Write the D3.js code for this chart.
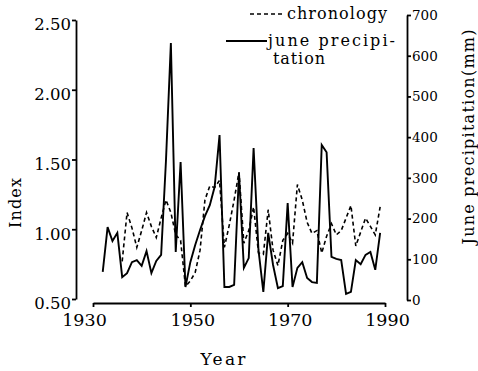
<!DOCTYPE html>
<html>
<head>
<meta charset="utf-8">
<script src="https://cdn.jsdelivr.net/npm/d3@7"></script>
<style>
  html, body { margin: 0; padding: 0; background: #fff; }
  svg { display: block; }
  text { font-family: "DejaVu Serif", "Liberation Serif", serif; fill: #000; }
</style>
</head>
<body>
<svg id="chart" width="478" height="371"></svg>
<script>
// Years of record
const years = [1932, 1933, 1934, 1935, 1936, 1937, 1938, 1939, 1940, 1941,
               1942, 1943, 1944, 1945, 1946, 1947, 1948, 1949, 1950, 1951,
               1952, 1953, 1954, 1955, 1956, 1957, 1958, 1959, 1960, 1961,
               1962, 1963, 1964, 1965, 1966, 1967, 1968, 1969, 1970, 1971,
               1972, 1973, 1974, 1975, 1976, 1977, 1978, 1979, 1980, 1981,
               1982, 1983, 1984, 1985, 1986, 1987, 1988, 1989];

// June precipitation (mm)
const junePrecip = [69, 179, 145, 165, 56, 66, 93, 98, 84, 120,
                    66, 96, 111, 344, 631, 118, 339, 32, 93, 135,
                    172, 206, 233, 278, 405, 32, 32, 37, 312, 79,
                    103, 373, 123, 20, 165, 86, 29, 34, 238, 32,
                    79, 93, 54, 44, 42, 381, 363, 106, 101, 98,
                    15, 20, 98, 88, 111, 118, 74, 165];

// Ring-width chronology index (series begins in 1936)
const chronology = [null, null, null, null, 0.77, 1.12, 1.01, 0.87, 0.99, 1.12,
                    1.02, 0.94, 1.08, 1.21, 1.12, 0.96, 0.92, 0.59, 0.63, 0.69,
                    0.85, 1.21, 1.31, 1.30, 1.35, 0.87, 1.03, 1.21, 1.41, 0.90,
                    0.99, 1.16, 0.83, 0.82, 1.14, 0.85, 0.74, 0.92, 0.97, 0.90,
                    1.32, 1.21, 1.05, 0.97, 0.99, 0.83, 0.95, 1.04, 0.96, 0.99,
                    1.08, 1.17, 0.88, 0.98, 1.08, 1.02, 0.96, 1.16];

// Axis ticks
const yearTicks = [1930, 1950, 1970, 1990];
const indexTicks = [0.50, 1.00, 1.50, 2.00, 2.50];
const precipTicks = [0, 100, 200, 300, 400, 500, 600, 700];

const svg = d3.select("#chart");

const x = d3.scaleLinear().domain([1930, 1990]).range([93, 385]);
const yIndex = d3.scaleLinear().domain([0.5, 2.5]).range([299, 20]);
const yPrecip = d3.scaleLinear().domain([0, 700]).range([300, 15]);

// Left axis: chronology index
const gL = svg.append("g")
  .attr("transform", "translate(76,0)")
  .call(d3.axisLeft(yIndex).tickValues(indexTicks)
    .tickFormat(d3.format(".2f")).tickSize(4).tickSizeOuter(0).tickPadding(1));
gL.selectAll("text").attr("font-size", 16.5).attr("dy", "0.6em");

// Bottom axis: year (first label sits left of the axis start)
const gB = svg.append("g")
  .attr("transform", "translate(0,303)")
  .call(d3.axisBottom(x).tickValues(yearTicks)
    .tickFormat(d3.format("d")).tickSize(4).tickSizeOuter(0).tickPadding(7));
gB.selectAll("text").attr("font-size", 17.5)
  .attr("dx", (d, i) => i === 0 ? -9 : 2);

// Right axis: precipitation
const gR = svg.append("g")
  .attr("transform", "translate(407,0)")
  .call(d3.axisRight(yPrecip).tickValues(precipTicks)
    .tickSize(4).tickSizeOuter(0).tickPadding(1));
gR.selectAll("text").attr("font-size", 13.5);

svg.selectAll("g").attr("font-family", null);
svg.selectAll(".domain, .tick line").attr("stroke", "#000").attr("stroke-width", 1.8);

// Axis titles
svg.append("text")
  .attr("transform", "translate(21,203) rotate(-90)")
  .attr("text-anchor", "middle").attr("font-size", 16)
  .attr("textLength", 50).attr("lengthAdjust", "spacing")
  .text("Index");

svg.append("text")
  .attr("x", 223).attr("y", 365)
  .attr("text-anchor", "middle").attr("font-size", 17)
  .attr("textLength", 45).attr("lengthAdjust", "spacing")
  .text("Year");

svg.append("text")
  .attr("transform", "translate(474,137) rotate(-90)")
  .attr("text-anchor", "middle").attr("font-size", 16)
  .attr("textLength", 215).attr("lengthAdjust", "spacing")
  .text("June precipitation(mm)");

// Series
const precipLine = d3.line()
  .x((d, i) => x(years[i]))
  .y(d => yPrecip(d));

const chronLine = d3.line()
  .defined(d => d !== null)
  .x((d, i) => x(years[i]))
  .y(d => yIndex(d));

svg.append("path")
  .datum(chronology)
  .attr("d", chronLine)
  .attr("fill", "none").attr("stroke", "#000")
  .attr("stroke-width", 1.6).attr("stroke-dasharray", "4,3");

svg.append("path")
  .datum(junePrecip)
  .attr("d", precipLine)
  .attr("fill", "none").attr("stroke", "#000")
  .attr("stroke-width", 1.9).attr("stroke-linejoin", "miter");

// Legend
const legend = svg.append("g");
legend.append("line")
  .attr("x1", 250).attr("x2", 285).attr("y1", 14).attr("y2", 14)
  .attr("stroke", "#000").attr("stroke-width", 1.6).attr("stroke-dasharray", "4,3");
legend.append("text").attr("x", 287).attr("y", 19).attr("font-size", 16)
  .attr("textLength", 100).attr("lengthAdjust", "spacing").text("chronology");
legend.append("line")
  .attr("x1", 226).attr("x2", 267).attr("y1", 41).attr("y2", 41)
  .attr("stroke", "#000").attr("stroke-width", 1.8);
legend.append("text").attr("x", 268).attr("y", 46).attr("font-size", 16)
  .attr("textLength", 127).attr("lengthAdjust", "spacing").text("june precipi-");
legend.append("text").attr("x", 273).attr("y", 64).attr("font-size", 16)
  .attr("textLength", 52).attr("lengthAdjust", "spacing").text("tation");
</script>
</body>
</html>
